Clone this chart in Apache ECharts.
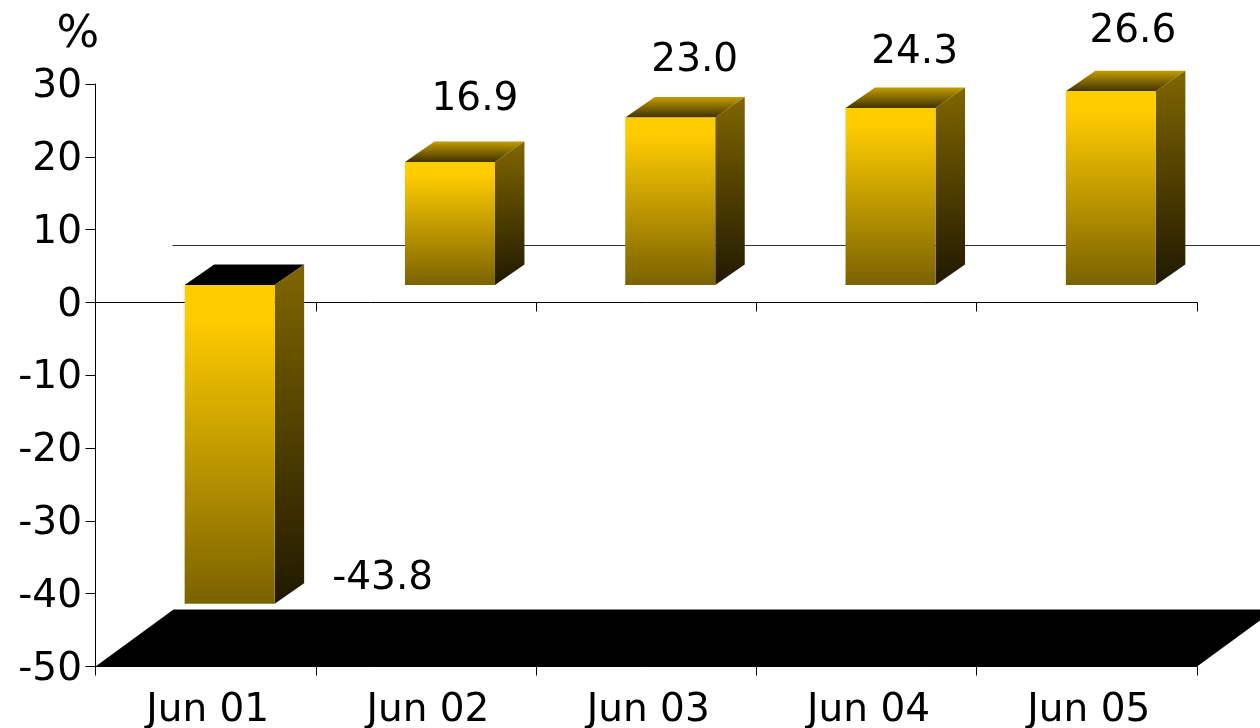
<!DOCTYPE html>
<html>
<head>
<meta charset="utf-8">
<style>html,body{margin:0;padding:0;background:#fff}#chart{width:1260px;height:728px}</style>
<script src="https://cdn.jsdelivr.net/npm/echarts@6/dist/echarts.min.js"></script>
</head>
<body>
<div id="chart"></div>
<script>
const categories = ['Jun 01', 'Jun 02', 'Jun 03', 'Jun 04', 'Jun 05'];
const growthValues = [-43.8, 16.9, 23.0, 24.3, 26.6];
const yMin = -50, yMax = 30, yStep = 10;

const FONT = '"DejaVu Sans", Verdana, sans-serif';
const FONT_SIZE = 39;
// 3-D projection, in pixels
const frontShift = [24, -17.5];   // bars sit inside the depth of the floor
const barDepth = [29.5, -20.5];
const wallShift = [78, -57];
const barHalfWidth = 45;
// manual placement of the data labels, relative to the top/bottom of the front face
const labelNudge = [[177, -25], [49, -62], [48.5, -57], [48, -55], [46, -59]];

const grad = (a, b) => new echarts.graphic.LinearGradient(0, 0, 0, 1, [{offset: 0, color: a}, {offset: 1, color: b}]);

function renderBackdrop(params, api) {
  const base = api.coord([0, yMin]);
  const zero = api.coord([0, 0]);
  const w = api.size([1, 0])[0];
  const x0 = base[0] - w / 2;
  const x1 = x0 + w * categories.length;
  const wallY = Math.floor(zero[1] + wallShift[1]) + 0.5;
  return {
    type: 'group',
    children: [
      {type: 'polygon', shape: {points: [
        [x0, base[1]], [x0 + wallShift[0], base[1] + wallShift[1]],
        [x1 + wallShift[0], base[1] + wallShift[1]], [x1, base[1]]
      ]}, style: {fill: '#000'}},
      {type: 'line', shape: {x1: x0 + wallShift[0] - 1, y1: wallY, x2: x1 + wallShift[0], y2: wallY},
        style: {stroke: '#333', lineWidth: 1}}
    ]
  };
}

function renderBar(params, api) {
  const i = api.value(0), v = api.value(1);
  const c = api.coord([i, v]);
  const z = api.coord([i, 0]);
  const l = c[0] + frontShift[0] - barHalfWidth, r = c[0] + frontShift[0] + barHalfWidth;
  const top = Math.min(c[1], z[1]) + frontShift[1];
  const bot = Math.max(c[1], z[1]) + frontShift[1];
  const dx = barDepth[0], dy = barDepth[1];
  const nudge = labelNudge[i];
  const anchorY = v < 0 ? bot : top;
  return {
    type: 'group',
    children: [
      {type: 'polygon', shape: {points: [[l, top], [l + dx, top + dy], [r + dx, top + dy], [r, top]]},
        style: {fill: v < 0 ? '#000' : grad('#c49d00', '#403300')}},
      {type: 'polygon', shape: {points: [[r, top], [r + dx, top + dy], [r + dx, bot + dy], [r, bot]]},
        style: {fill: grad('#806600', '#201900')}},
      {type: 'rect', shape: {x: l, y: top, width: r - l, height: bot - top},
        style: {fill: new echarts.graphic.LinearGradient(0, 0, 0, 1, [
          {offset: 0, color: '#ffcc00'}, {offset: 0.1, color: '#ffcc00'}, {offset: 1, color: '#7a6200'}])}},
      {type: 'text', style: {
        text: v.toFixed(1), x: c[0] + nudge[0], y: anchorY + nudge[1],
        fill: '#000', font: FONT_SIZE + 'px ' + FONT, align: 'center', verticalAlign: 'middle'
      }}
    ]
  };
}

const axisLine = {lineStyle: {color: '#000', width: 1}};
const chart = echarts.init(document.getElementById('chart'), null, {renderer: 'canvas'});
chart.setOption({
  animation: false,
  backgroundColor: '#fff',
  grid: {left: 95.5, top: 84, width: 1101.5, height: 582.5, containLabel: false, outerBoundsMode: 'none'},
  xAxis: [
    {type: 'category', data: categories, position: 'bottom',
      axisLine: {onZero: false, ...axisLine},
      axisTick: {show: true, length: 9, lineStyle: {color: '#000'}},
      axisLabel: {color: '#000', fontFamily: FONT, fontSize: FONT_SIZE, margin: 25, interval: 0, padding: [0, 0, 0, 4]}},
    {type: 'category', data: categories, position: 'bottom',
      axisLine: {onZero: true, ...axisLine},
      axisTick: {show: true, length: 9, lineStyle: {color: '#000'}},
      axisLabel: {show: false}}
  ],
  yAxis: {
    type: 'value', min: yMin, max: yMax, interval: yStep,
    name: '%', nameLocation: 'end', nameGap: 49,
    nameTextStyle: {color: '#000', fontFamily: FONT, fontSize: 45, align: 'center', verticalAlign: 'middle', padding: [0, 35, 0, 0]},
    axisLine: {show: true, onZero: false, ...axisLine},
    axisTick: {show: true, length: 10, lineStyle: {color: '#000'}},
    axisLabel: {color: '#000', fontFamily: FONT, fontSize: FONT_SIZE, margin: 13.5, verticalAlign: 'top', lineHeight: 6},
    splitLine: {show: false}
  },
  series: [
    {type: 'custom', xAxisIndex: 0, clip: false, z: 1, silent: true, renderItem: renderBackdrop, data: [[0, yMin]], encode: {x: 0, y: 1}},
    {type: 'custom', xAxisIndex: 0, clip: false, z: 3, silent: true, renderItem: renderBar,
      data: growthValues.map((v, i) => [i, v]), encode: {x: 0, y: 1}}
  ]
});
</script>
</body>
</html>
